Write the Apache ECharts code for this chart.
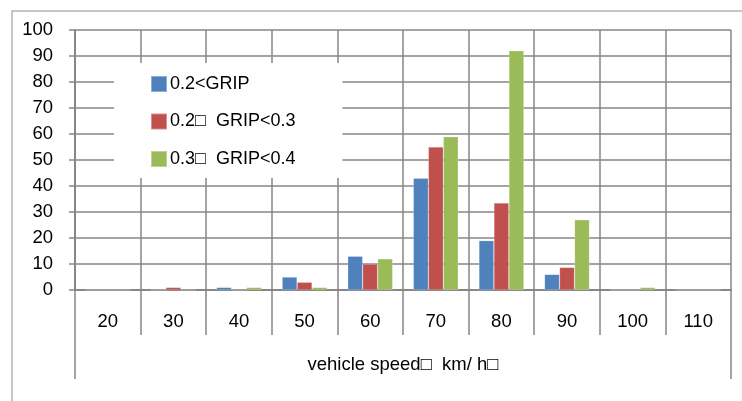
<!DOCTYPE html>
<html>
<head>
<meta charset="utf-8">
<script src="https://cdn.jsdelivr.net/npm/echarts@6/dist/echarts.min.js"></script>
<style>
  html, body { margin: 0; padding: 0; background: #fff; }
  #chart { width: 742px; height: 401px; }
</style>
</head>
<body>
<div id="chart"></div>
<script>
// Speed classes (km/h)
const speeds = ['20', '30', '40', '50', '60', '70', '80', '90', '100', '110'];
// Counts per grip class
const gripLow = [0, 0, 1, 5, 13, 43, 19, 6, 0, 0];
const gripMid = [0, 1, 0, 3, 10, 55, 33.5, 8.7, 0, 0];
const gripHigh = [0, 0, 1, 1, 12, 59, 92, 27, 1, 0];
const seriesNames = ['0.2<GRIP', '0.2\u25A1  GRIP<0.3', '0.3\u25A1  GRIP<0.4'];
const axisTitle = 'vehicle speed\u25A1  km/ h\u25A1';
const yTicks = { min: 0, max: 100, step: 10 };

const gridGray = '#878787';
const font = 'Liberation Sans, Arial, sans-serif';

const chart = echarts.init(document.getElementById('chart'), null, { renderer: 'canvas' });

const makeBar = (name, data, color) => ({
  name, type: 'bar', data,
  xAxisIndex: 0, yAxisIndex: 0,
  barWidth: 15, barGap: '0%',
  itemStyle: { color, borderColor: 'rgba(255,255,255,0.35)', borderWidth: 0.6 },
  emphasis: { disabled: true }
});

chart.setOption({
  animation: false,
  backgroundColor: '#fff',
  textStyle: { fontFamily: font },
  graphic: [{
    type: 'rect',
    shape: { x: 12, y: 11, width: 760, height: 420 },
    style: { fill: 'none', stroke: '#b4b4b4', lineWidth: 1.5 },
    silent: true, z: -1
  }],
  grid: { left: 75, right: 11, top: 30, bottom: 111, containLabel: false },
  legend: {
    orient: 'vertical',
    left: 114, top: 63,
    padding: [12, 47, 10, 36],
    itemWidth: 16, itemHeight: 16, itemGap: 19.5,
    backgroundColor: '#fff',
    icon: 'rect',
    textStyle: { fontSize: 18, color: '#000', fontFamily: font, padding: [0, 0, 0, -2] },
    data: seriesNames,
    z: 10
  },
  xAxis: [{
    type: 'category',
    data: speeds,
    position: 'bottom',
    boundaryGap: true,
    axisLine: { show: true, lineStyle: { color: gridGray, width: 2 } },
    axisTick: { show: true, interval: 0, length: 45, lineStyle: { color: gridGray, width: 1.5 } },
    axisLabel: { interval: 0, margin: 22, fontSize: 18.5, color: '#000', fontFamily: font },
    splitLine: { show: true, interval: 0, lineStyle: { color: gridGray, width: 1.5 } }
  }, {
    type: 'category',
    data: [axisTitle],
    position: 'bottom',
    boundaryGap: true,
    axisLine: { show: false },
    axisTick: { show: true, length: 89, lineStyle: { color: gridGray, width: 1.5 } },
    axisLabel: { margin: 65, fontSize: 18.5, color: '#000', fontFamily: font },
    splitLine: { show: false }
  }],
  yAxis: {
    type: 'value',
    min: yTicks.min, max: yTicks.max, interval: yTicks.step,
    axisLine: { show: true, lineStyle: { color: gridGray, width: 2 } },
    axisTick: { show: true, length: 6, lineStyle: { color: gridGray, width: 1.5 } },
    axisLabel: { margin: 22, fontSize: 18.5, color: '#000', fontFamily: font },
    splitLine: { show: true, lineStyle: { color: gridGray, width: 1.5 } }
  },
  series: [
    makeBar(seriesNames[0], gripLow, '#4F81BD'),
    makeBar(seriesNames[1], gripMid, '#C0504D'),
    makeBar(seriesNames[2], gripHigh, '#9BBB59')
  ]
});
</script>
</body>
</html>
